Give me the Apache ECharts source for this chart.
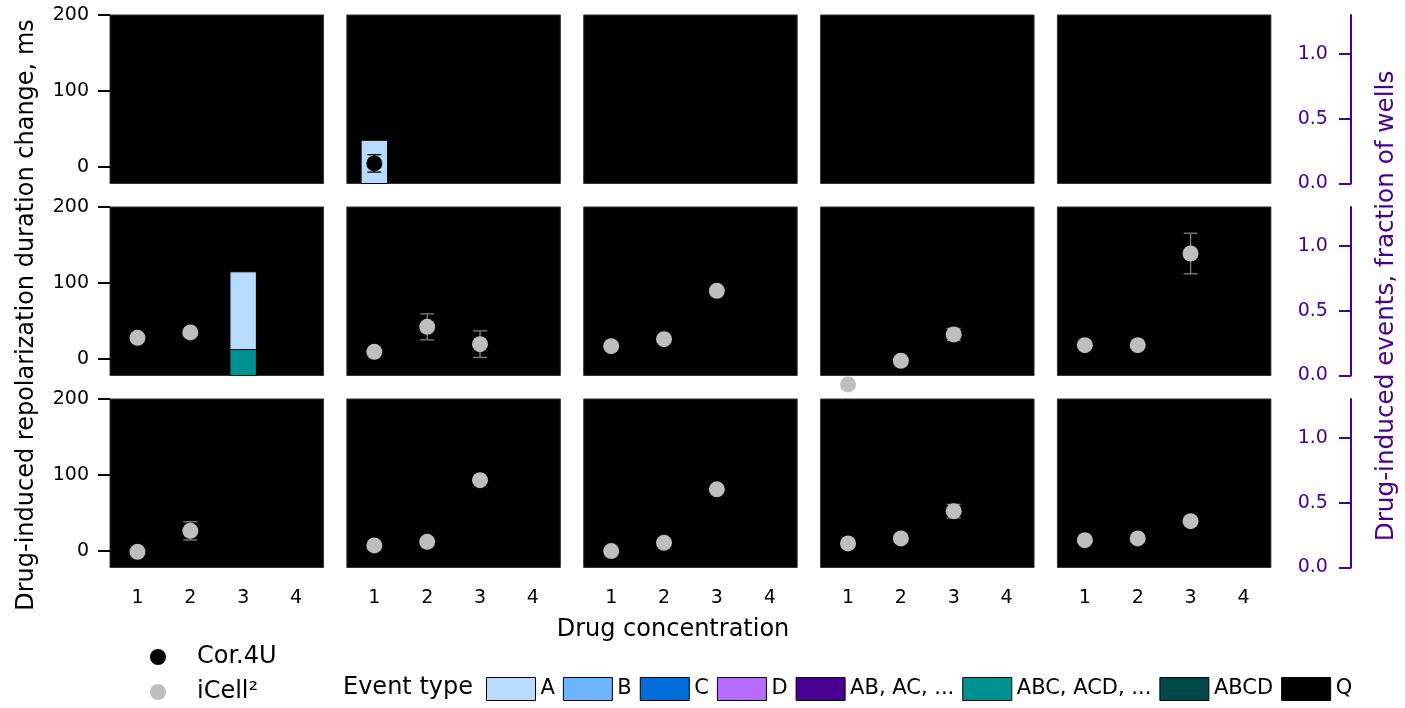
<!DOCTYPE html>
<html>
<head>
<meta charset="utf-8">
<script src="https://cdn.jsdelivr.net/npm/echarts@6/dist/echarts.min.js"></script>
<style>
  html, body { margin: 0; padding: 0; background: #fff; }
  #chart { width: 1405px; height: 708px; }
</style>
</head>
<body>
<div id="chart"></div>
<script>
// ---- data ----
const concentrations = [1, 2, 3, 4];
const apdTicks = [0, 100, 200];
const fractionTicks = [0, 0.5, 1.0];

const eventTypes = ['A', 'B', 'C', 'D', 'AB, AC, ...', 'ABC, ACD, ...', 'ABCD', 'Q'];

// iCell² mean repolarization duration change (ms), one list per panel (row-major, 3 x 5),
// entry i belongs to concentration i + 1
const icellMean = [
  [], [], [], [], [],
  [27.6, 34.7], [9.2, 42.1, 19.3], [16.7, 25.9, 89.5], [-33.7, -2.6, 32.1], [18, 18, 138.7],
  [-1.3, 26.3], [7.1, 11.8, 93], [-0.4, 10.5, 81], [9.7, 16.3, 52.2], [14, 16.3, 39]
];
const icellErr = [
  [], [], [], [], [],
  [0, 0], [0, 17.1, 17.5], [0, 0, 0], [0, 0, 8], [0, 0, 26.7],
  [0, 12], [0, 0, 0], [0, 0, 0], [0, 0, 9], [0, 0, 0]
];
const corMean = [
  [], [4.5], [], [], [],
  [], [], [], [], [],
  [], [], [], [], []
];
const corErr = [
  [], [11.5], [], [], [],
  [], [], [], [], [],
  [], [], [], [], []
];

// [panel, concentration, event type, fraction of wells]
const eventWells = [
  [1, 1, 'A', 1 / 3],
  [5, 3, 'ABC, ACD, ...', 0.2],
  [5, 3, 'A', 0.6]
];

// ---- styling / layout ----
const eventColors = ['#b6dbff', '#6db6ff', '#006ddb', '#b66dff', '#490092', '#009292', '#004949', '#000000'];
const purple = '#490092';
const icellColor = '#bebebe';
const font = 'DejaVu Sans';
const ROWS = 3, COLS = 5;
const gridLeft0 = 110, gridStepX = 236.85, gridW = 213.5;
const gridTop0 = 15, gridStepY = 192, gridH = 168.5;

const grids = [], xAxes = [], yAxes = [], series = [];

for (let p = 0; p < ROWS * COLS; p++) {
  const r = Math.floor(p / COLS), c = p % COLS;
  grids.push({
    left: gridLeft0 + c * gridStepX, top: gridTop0 + r * gridStepY,
    width: gridW, height: gridH,
    show: true, backgroundColor: '#000', borderColor: '#333', borderWidth: 1
  });
  const bottomRow = r === ROWS - 1;
  xAxes.push({
    gridIndex: p, type: 'value', min: 0.48, max: 4.52,
    axisLine: { show: false }, splitLine: { show: false },
    axisTick: { show: bottomRow, customValues: concentrations, length: 11, lineStyle: { color: '#000', width: 2 } },
    axisLabel: { show: bottomRow, customValues: concentrations, fontSize: 19, color: '#000', margin: 21, fontFamily: font }
  });
  yAxes.push({
    gridIndex: p, type: 'value', position: 'left', min: -22, max: 200,
    axisLine: { show: false }, splitLine: { show: false },
    axisTick: { show: c === 0, customValues: apdTicks, length: 12, lineStyle: { color: '#000', width: 2 } },
    axisLabel: { show: c === 0, customValues: apdTicks, fontSize: 19, color: '#000', margin: 21, fontFamily: font }
  });
  const lastCol = c === COLS - 1;
  yAxes.push({
    gridIndex: p, type: 'value', position: 'right', offset: 80, min: 0, max: 1.3,
    show: lastCol,
    axisLine: { show: true, lineStyle: { color: purple, width: 2 } },
    splitLine: { show: false },
    axisTick: { show: true, inside: true, customValues: fractionTicks, length: 12, lineStyle: { color: purple, width: 2 } },
    axisLabel: { show: true, inside: true, customValues: fractionTicks, fontSize: 19, color: purple, margin: 23,
      fontFamily: font, formatter: v => v.toFixed(1) }
  });
}

// stacked event bars: last event type at the bottom, first on top
const barPanels = [...new Set(eventWells.map(e => e[0]))];
barPanels.forEach(p => {
  const base = {};
  const itemsByType = eventTypes.map(() => []);
  for (let t = eventTypes.length - 1; t >= 0; t--) {
    concentrations.forEach(x => {
      const rec = eventWells.find(e => e[0] === p && e[1] === x && e[2] === eventTypes[t]);
      if (!rec) return;
      const lo = base[x] || 0;
      const hi = lo + rec[3];
      base[x] = hi;
      itemsByType[t].push([x, lo, hi]);
    });
  }
  eventTypes.forEach((name, t) => {
    series.push({
      type: 'custom', name: name, xAxisIndex: p, yAxisIndex: 2 * p + 1,
      itemStyle: { color: eventColors[t] }, z: 1,
      data: itemsByType[t],
      renderItem: (params, api) => {
        const x = api.value(0);
        const p0 = api.coord([x, api.value(1)]);
        const p1 = api.coord([x, api.value(2)]);
        const w = api.size([0.5, 0])[0];
        return {
          type: 'rect',
          shape: { x: p0[0] - w / 2, y: p1[1], width: w, height: p0[1] - p1[1] },
          style: { fill: eventColors[t], stroke: '#000', lineWidth: 1 }
        };
      }
    });
  });
});

function errorBars(p, means, errs, color, name) {
  const data = [];
  means.forEach((m, i) => { if (errs[i] > 0) data.push([concentrations[i], m, errs[i]]); });
  if (!data.length) return;
  series.push({
    type: 'custom', name: name, xAxisIndex: p, yAxisIndex: 2 * p, z: 2,
    data: data,
    renderItem: (params, api) => {
      const x = api.value(0), m = api.value(1), e = api.value(2);
      const top = api.coord([x, m + e]), bot = api.coord([x, m - e]);
      const hw = 7;
      const st = { stroke: color, lineWidth: 1.3 };
      return {
        type: 'group', children: [
          { type: 'line', shape: { x1: top[0], y1: top[1], x2: bot[0], y2: bot[1] }, style: st },
          { type: 'line', shape: { x1: top[0] - hw, y1: top[1], x2: top[0] + hw, y2: top[1] }, style: st },
          { type: 'line', shape: { x1: bot[0] - hw, y1: bot[1], x2: bot[0] + hw, y2: bot[1] }, style: st }
        ]
      };
    }
  });
}

for (let p = 0; p < ROWS * COLS; p++) {
  errorBars(p, icellMean[p], icellErr[p], '#7f7f7f', 'iCell²');
  errorBars(p, corMean[p], corErr[p], '#000', 'Cor.4U');
  series.push({
    type: 'scatter', name: 'iCell²', xAxisIndex: p, yAxisIndex: 2 * p, z: 3, clip: false,
    symbolSize: 16, itemStyle: { color: icellColor, opacity: 1 },
    data: icellMean[p].map((m, i) => [concentrations[i], m])
  });
  series.push({
    type: 'scatter', name: 'Cor.4U', xAxisIndex: p, yAxisIndex: 2 * p, z: 3, clip: false,
    symbolSize: 16, itemStyle: { color: '#000', opacity: 1 },
    data: corMean[p].map((m, i) => [concentrations[i], m])
  });
}

const pointLegend = (name, top) => ({
  data: [name], orient: 'vertical', left: 145, top: top,
  icon: 'circle', itemWidth: 16, itemHeight: 16, selectedMode: false,
  itemStyle: { opacity: 1 },
  textStyle: { fontSize: 24, color: '#000', fontFamily: font, padding: [0, 0, 0, 26] }
});

const option = {
  animation: false,
  backgroundColor: '#fff',
  textStyle: { fontFamily: font },
  grid: grids,
  xAxis: xAxes,
  yAxis: yAxes,
  series: series,
  legend: [
    pointLegend('Cor.4U', 640),
    pointLegend('iCell²', 675),
    {
      data: eventTypes, orient: 'horizontal', left: 481, top: 672,
      icon: 'rect', itemWidth: 49, itemHeight: 23, itemGap: 8, selectedMode: false,
      itemStyle: { borderColor: '#000', borderWidth: 1 },
      textStyle: { fontSize: 21, color: '#000', fontFamily: font }
    }
  ],
  graphic: [
    {
      type: 'text', x: 343, y: 688,
      style: { text: 'Event type', font: '24px "DejaVu Sans"', fill: '#000', align: 'left', verticalAlign: 'middle' }
    },
    {
      type: 'text', x: 673, y: 630,
      style: { text: 'Drug concentration', font: '24px "DejaVu Sans"', fill: '#000', align: 'center', verticalAlign: 'middle' }
    },
    {
      type: 'text', x: 27, y: 315, rotation: Math.PI / 2,
      style: { text: 'Drug-induced repolarization duration change, ms', font: '24px "DejaVu Sans"', fill: '#000', align: 'center', verticalAlign: 'middle' }
    },
    {
      type: 'text', x: 1387, y: 306, rotation: Math.PI / 2,
      style: { text: 'Drug-induced events, fraction of wells', font: '24.7px "DejaVu Sans"', fill: purple, align: 'center', verticalAlign: 'middle' }
    }
  ]
};

const chart = echarts.init(document.getElementById('chart'), null, { renderer: 'canvas' });
chart.setOption(option);
</script>
</body>
</html>
